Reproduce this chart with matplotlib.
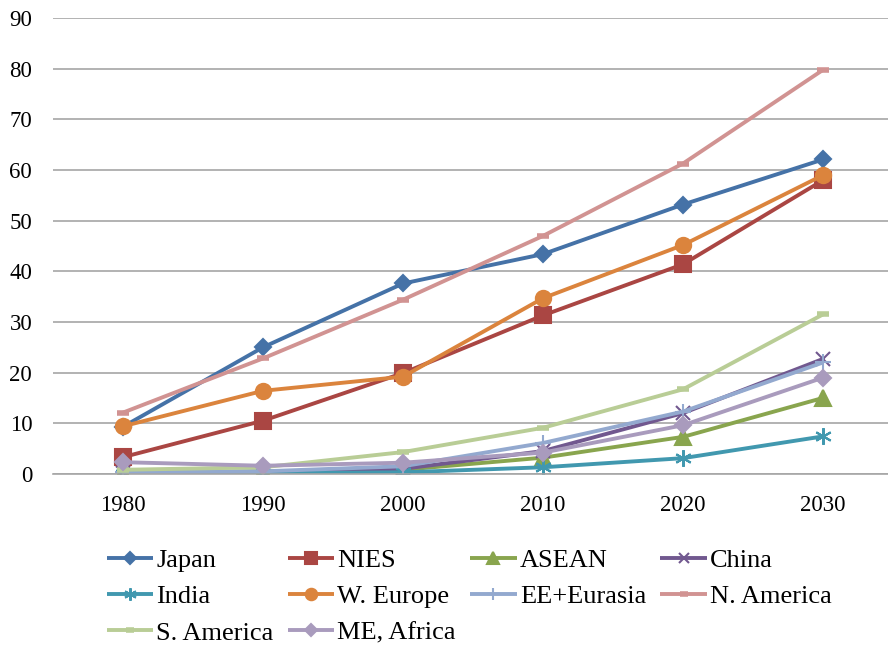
import numpy as np
import matplotlib.pyplot as plt

years = ['1980', '1990', '2000', '2010', '2020', '2030']

japan = [9.3, 25.0, 37.6, 43.4, 53.2, 62.1]
nies = [3.3, 10.5, 19.9, 31.3, 41.4, 58.0]
asean = [0.2, 0.5, 0.8, 3.2, 7.3, 15.0]
china = [0.1, 0.3, 1.0, 4.5, 12.0, 22.7]
india = [0.0, 0.1, 0.3, 1.3, 3.1, 7.4]
w_europe = [9.4, 16.4, 19.2, 34.7, 45.2, 59.0]
ee_eurasia = [0.3, 0.5, 1.5, 6.1, 12.3, 22.0]
n_america = [12.1, 22.8, 34.4, 47.0, 61.3, 79.8]
s_america = [0.8, 1.3, 4.3, 9.1, 16.7, 31.5]
me_africa = [2.3, 1.6, 2.2, 4.2, 9.6, 19.0]

plt.rcParams['font.family'] = 'serif'
plt.rcParams['font.serif'] = ['Liberation Serif', 'DejaVu Serif']

fig = plt.figure(figsize=(8.88, 6.5), dpi=100)
ax = fig.add_axes([0.0597, 0.271, 0.946, 0.701])

x = np.arange(len(years))
series = [
    ('Japan', japan, '#4572A7', 'D', 8),
    ('NIES', nies, '#AA4643', 's', 11),
    ('ASEAN', asean, '#89A54E', '^', 11),
    ('China', china, '#71588F', 'x', 10),
    ('India', india, '#4198AF', (6, 2, 0), 12),
    ('W. Europe', w_europe, '#DB843D', 'o', 11),
    ('EE+Eurasia', ee_eurasia, '#93A9CF', '+', 12),
    ('N. America', n_america, '#D19392', '_', 8),
    ('S. America', s_america, '#B9CD96', '_', 8),
    ('ME, Africa', me_africa, '#A99BBD', 'D', 8),
]

handles = {}
for name, vals, col, mk, ms in series:
    line, = ax.plot(x, vals, color=col, lw=2.8, marker=mk, markersize=ms,
                    markerfacecolor=col, markeredgecolor=col, markeredgewidth=1.5,
                    label=name, solid_capstyle='butt')
    if mk == '_':
        line.set_markeredgewidth(4)
    handles[name] = line

ax.set_xlim(-0.5, 5.5)
ax.set_ylim(0, 90)
ax.set_yticks(range(0, 91, 10))
ax.set_xticks(x)
ax.set_xticklabels(years)
ax.grid(axis='y', color='#A6A6A6', lw=1.2)
ax.set_axisbelow(True)
for s in ['top', 'right', 'left']:
    ax.spines[s].set_visible(False)
ax.spines['bottom'].set_color('#A6A6A6')
ax.spines['bottom'].set_linewidth(1.2)
ax.tick_params(axis='both', length=0, labelsize=16.5)
ax.tick_params(axis='x', pad=15)
ax.tick_params(axis='y', pad=15)

# column-major order so the legend reads row by row
order = ['Japan', 'India', 'S. America', 'NIES', 'W. Europe', 'ME, Africa',
         'ASEAN', 'EE+Eurasia', 'China', 'N. America']
fig.legend([handles[n] for n in order], order, ncol=4, frameon=False,
           loc='upper left', bbox_to_anchor=(0.1085, 0.172), fontsize=19,
           handlelength=1.75, handletextpad=0.12, columnspacing=0.55,
           labelspacing=0.48, markerscale=0.75, borderaxespad=0)

fig.savefig('out.png', dpi=100)
